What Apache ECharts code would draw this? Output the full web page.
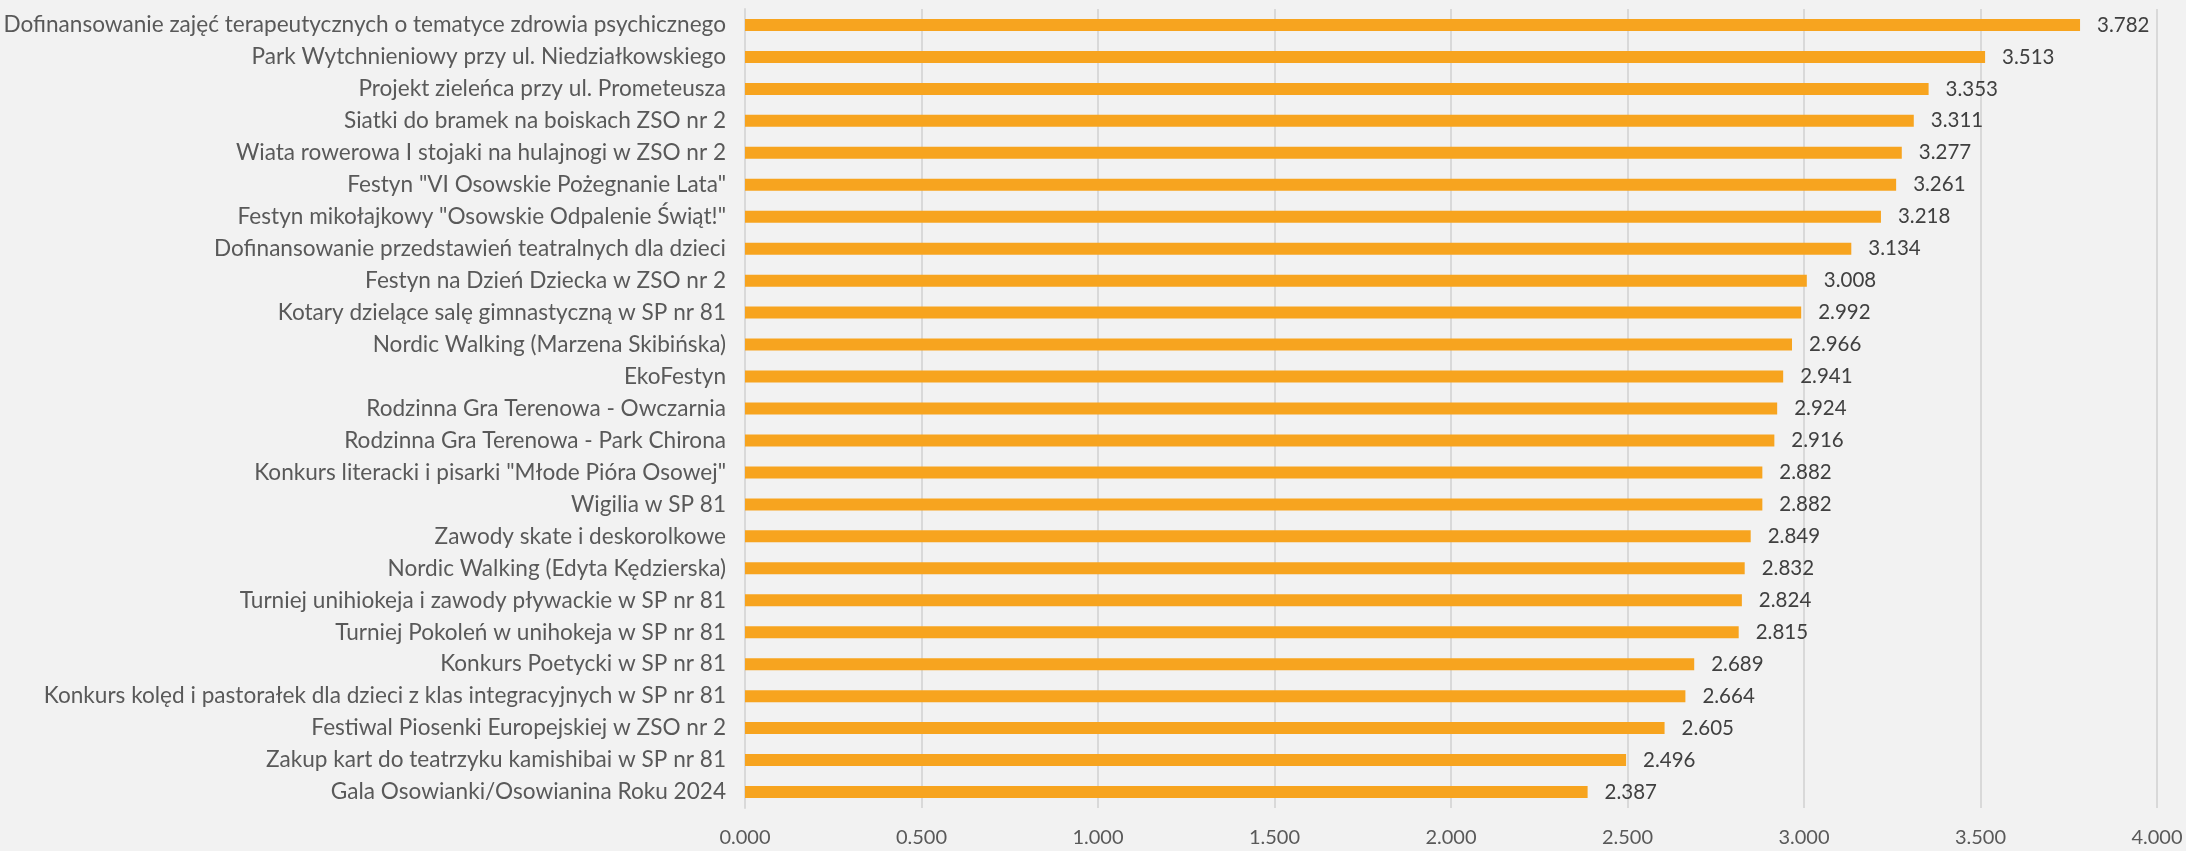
<!DOCTYPE html>
<html>
<head>
<meta charset="utf-8">
<script src="https://cdn.jsdelivr.net/npm/echarts@6/dist/echarts.min.js"></script>
<style>
html,body{margin:0;padding:0;background:#F2F2F2;}
#c{width:2186px;height:851px;}
</style>
</head>
<body>
<div id="c"></div>
<script>
const categories = [
  "Dofinansowanie zajęć terapeutycznych o tematyce zdrowia psychicznego",
  "Park Wytchnieniowy przy ul. Niedziałkowskiego",
  "Projekt zieleńca przy ul. Prometeusza",
  "Siatki do bramek na boiskach ZSO nr 2",
  "Wiata rowerowa I stojaki na hulajnogi w ZSO nr 2",
  "Festyn \"VI Osowskie Pożegnanie Lata\"",
  "Festyn mikołajkowy \"Osowskie Odpalenie Świąt!\"",
  "Dofinansowanie przedstawień teatralnych dla dzieci",
  "Festyn na Dzień Dziecka w ZSO nr 2",
  "Kotary dzielące salę gimnastyczną w SP nr 81",
  "Nordic Walking (Marzena Skibińska)",
  "EkoFestyn",
  "Rodzinna Gra Terenowa - Owczarnia",
  "Rodzinna Gra Terenowa - Park Chirona",
  "Konkurs literacki i pisarki \"Młode Pióra Osowej\"",
  "Wigilia w SP 81",
  "Zawody skate i deskorolkowe",
  "Nordic Walking (Edyta Kędzierska)",
  "Turniej unihiokeja i zawody pływackie w SP nr 81",
  "Turniej Pokoleń w unihokeja w SP nr 81",
  "Konkurs Poetycki w SP nr 81",
  "Konkurs kolęd i pastorałek dla dzieci z klas integracyjnych w SP nr 81",
  "Festiwal Piosenki Europejskiej w ZSO nr 2",
  "Zakup kart do teatrzyku kamishibai w SP nr 81",
  "Gala Osowianki/Osowianina Roku 2024"
];
const values = [3.782, 3.513, 3.353, 3.311, 3.277, 3.261, 3.218, 3.134, 3.008, 2.992, 2.966, 2.941, 2.924, 2.916, 2.882, 2.882, 2.849, 2.832, 2.824, 2.815, 2.689, 2.664, 2.605, 2.496, 2.387];
const xTicks = { min: 0, max: 4, interval: 0.5 };

const chart = echarts.init(document.getElementById('c'));
chart.setOption({
  backgroundColor: '#F2F2F2',
  animation: false,
  grid: { left: 745, right: 29, top: 9, bottom: 43, containLabel: false },
  xAxis: {
    type: 'value',
    min: xTicks.min, max: xTicks.max, interval: xTicks.interval,
    axisLine: { show: false },
    axisTick: { show: false },
    splitLine: { show: true, lineStyle: { color: '#D9D9D9', width: 2 } },
    axisLabel: {
      color: '#595959', fontFamily: 'Lato', fontSize: 20, margin: 20,
      formatter: v => v.toFixed(3)
    }
  },
  yAxis: {
    type: 'category',
    data: categories,
    inverse: true,
    axisLine: { show: true, lineStyle: { color: '#D9D9D9', width: 2 } },
    axisTick: { show: false },
    axisLabel: { color: '#595959', fontFamily: 'Lato', fontSize: 22.6, margin: 19 }
  },
  series: [{
    type: 'bar',
    data: values,
    barWidth: 12,
    itemStyle: { color: '#F7A41F' },
    label: {
      show: true, position: 'right', distance: 17,
      color: '#404040', fontFamily: 'Lato', fontSize: 20.5,
      formatter: p => p.value.toFixed(3)
    }
  }]
});
</script>
</body>
</html>
